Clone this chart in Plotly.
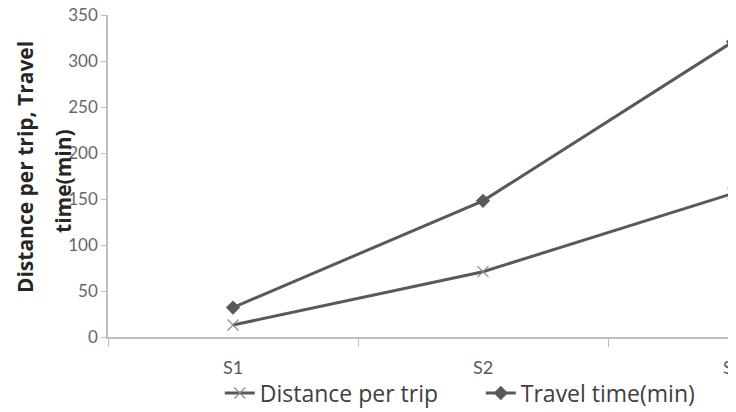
import plotly.graph_objects as go

categories = ["S1", "S2", "S3"]
distance_per_trip = [13, 71, 156]
travel_time = [32, 148, 321]
y_ticks = [0, 50, 100, 150, 200, 250, 300, 350]

LINE = "#595959"

fig = go.Figure()
fig.add_trace(go.Scatter(
    x=categories, y=distance_per_trip, name="Distance per trip", mode="lines+markers",
    line=dict(color=LINE, width=3),
    marker=dict(symbol="x-thin-open", size=11, line=dict(color="#8c8c8c", width=1.2), color="#8c8c8c"),
    cliponaxis=False,
))
fig.add_trace(go.Scatter(
    x=categories, y=travel_time, name="Travel time(min)", mode="lines+markers",
    line=dict(color=LINE, width=3),
    marker=dict(symbol="diamond", size=11, color=LINE),
    cliponaxis=False,
))

fig.update_layout(
    width=728, height=404,
    margin=dict(l=100, r=0, t=7, b=75, autoexpand=False),
    paper_bgcolor="white", plot_bgcolor="white",
    font=dict(family="Lato", color="#595959"),
    showlegend=True,
    legend=dict(orientation="h", x=0.178, xanchor="left", y=-0.174, yanchor="middle",
                font=dict(size=23, color="#404040", family="Open Sans"), itemwidth=30,
                entrywidth=216, entrywidthmode="pixels",
                bgcolor="rgba(0,0,0,0)", tracegroupgap=0),
)
fig.update_xaxes(
    type="category", range=[-0.5, 2.012], tickson="boundaries",
    ticks="outside", ticklen=8, tickcolor="#bfbfbf", tickwidth=1.2,
    ticklabelstandoff=14, ticklabeloverflow="allow",
    tickfont=dict(size=18, color="#595959"), automargin=False,
    showline=True, linecolor="#bfbfbf", linewidth=1.5, showgrid=False, zeroline=False,
)
fig.update_yaxes(
    range=[0, 350], tickmode="array", tickvals=y_ticks,
    ticks="outside", ticklen=5, tickcolor="#bfbfbf", ticklabeloverflow="allow",
    tickfont=dict(size=17, color="#666666"), automargin=False,
    showline=True, linecolor="#bfbfbf", linewidth=1.5, showgrid=False, zeroline=False,
)

fig.add_annotation(text="<b>Distance per trip, Travel</b>", xref="paper", yref="paper",
                   x=-0.132, y=0.528, xanchor="center", yanchor="middle", textangle=-90,
                   showarrow=False, font=dict(size=21, color="#262626", family="Open Sans"))
fig.add_annotation(text="<b>time(min)</b>", xref="paper", yref="paper",
                   x=-0.072, y=0.484, xanchor="center", yanchor="middle", textangle=-90,
                   showarrow=False, font=dict(size=21, color="#262626", family="Open Sans"))

fig.write_html("out.html")
